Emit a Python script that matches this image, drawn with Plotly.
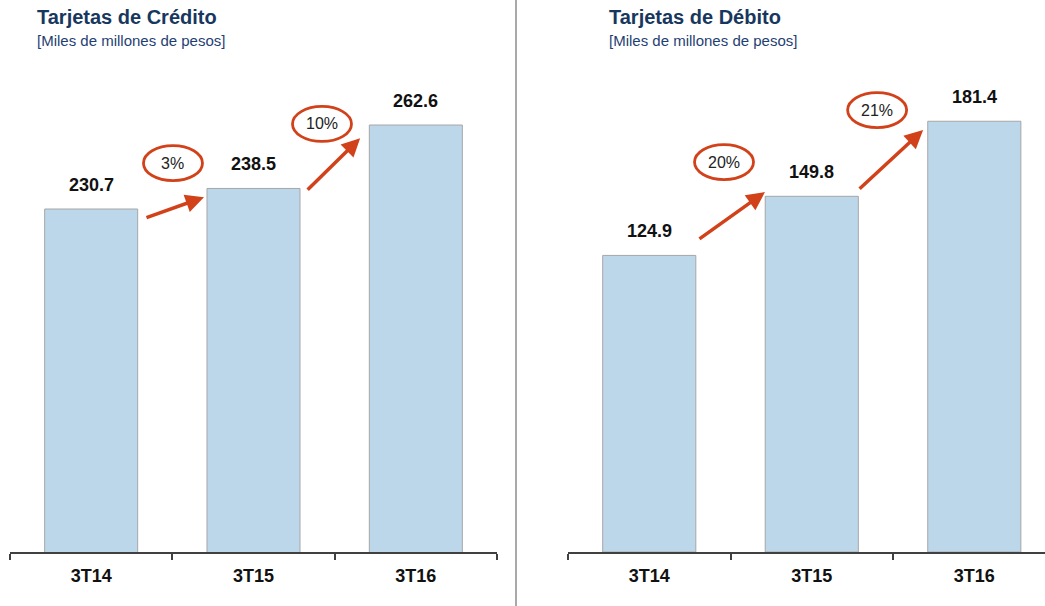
import plotly.graph_objects as go

W, H = 1045, 606

# datos
periodos = ["3T14", "3T15", "3T16"]
credito = [230.7, 238.5, 262.6]
debito = [124.9, 149.8, 181.4]
crec_credito = ["3%", "10%"]
crec_debito = ["20%", "21%"]

titulos = ["Tarjetas de Crédito", "Tarjetas de Débito"]
subtitulo = "[Miles de millones de pesos]"

AZUL_BARRA = "#BDD7EA"
ROJO = "#D2421A"
NAVY = "#17375E"
FONT = "Liberation Sans, Arial, sans-serif"


def px_x(p):
    return p / W


def px_y(p):
    return (H - p) / H


fig = go.Figure()

for vals, xa, ya in [(credito, "x", "y"), (debito, "x2", "y2")]:
    fig.add_trace(
        go.Bar(
            x=periodos,
            y=vals,
            xaxis=xa,
            yaxis=ya,
            marker=dict(color=AZUL_BARRA, line=dict(color="#A6A6A6", width=1)),
            showlegend=False,
            hoverinfo="skip",
        )
    )

annotations = []
shapes = []

# etiquetas de valor sobre las barras
for vals, xa, ya in [(credito, "x", "y"), (debito, "x2", "y2")]:
    for p, v in zip(periodos, vals):
        annotations.append(
            dict(
                x=p, y=v, xref=xa, yref=ya, yshift=24,
                text="<b>%.1f</b>" % v, showarrow=False,
                font=dict(family=FONT, size=18, color="#111111"),
            )
        )

# flechas: punta (x, y) en datos, cola en pixeles relativos
flechas = [
    ("x", "y", 0.695, 235.2, -59, 21),
    ("x", "y", 1.657, 257.6, -54, 53),
    ("x2", "y2", 0.712, 151.6, -67, 48),
    ("x2", "y2", 1.685, 177.7, -65, 60),
]
for xa, ya, x, y, ax, ay in flechas:
    annotations.append(
        dict(
            x=x, y=y, xref=xa, yref=ya, ax=ax, ay=ay, text="",
            showarrow=True, arrowhead=2, arrowsize=1.05, arrowwidth=3.5,
            arrowcolor=ROJO, standoff=0,
        )
    )

# elipses con el crecimiento
elipses = [
    ("x", "y", 0.504, 248.1, crec_credito[0]),
    ("x", "y", 1.422, 263.0, crec_credito[1]),
    ("x2", "y2", 0.46, 164.2, crec_debito[0]),
    ("x2", "y2", 1.402, 186.1, crec_debito[1]),
]
for xa, ya, x, y, txt in elipses:
    shapes.append(
        dict(
            type="circle", xref=xa, yref=ya, xsizemode="pixel", ysizemode="pixel",
            xanchor=x, yanchor=y, x0=-29.5, x1=29.5, y0=-17.5, y1=17.5,
            line=dict(color=ROJO, width=2.8),
        )
    )
    annotations.append(
        dict(
            x=x, y=y, xref=xa, yref=ya, text=txt, showarrow=False,
            font=dict(family=FONT, size=16, color="#222222"),
        )
    )

# titulos
for x0, t in [(36, titulos[0]), (608, titulos[1])]:
    annotations.append(
        dict(
            x=px_x(x0 - 1), y=px_y(17), xref="paper", yref="paper", text="<b>%s</b>" % t,
            xanchor="left", yanchor="middle", showarrow=False,
            font=dict(family=FONT, size=20, color=NAVY),
        )
    )
    annotations.append(
        dict(
            x=px_x(x0 - 1), y=px_y(40), xref="paper", yref="paper", text=subtitulo,
            xanchor="left", yanchor="middle", showarrow=False,
            font=dict(family=FONT, size=15, color="#1F3F73"),
        )
    )

# separador vertical
shapes.append(
    dict(type="line", xref="paper", yref="paper", x0=px_x(516), x1=px_x(516),
         y0=0, y1=1, line=dict(color="#8C8C8C", width=1.5))
)

eje_x = dict(
    type="category", showline=True, linecolor="#404040", linewidth=1.5,
    ticks="outside", ticklen=6, tickcolor="#404040", tickwidth=1.5,
    tickson="boundaries", showgrid=False, zeroline=False,
    tickfont=dict(family=FONT, size=18, color="#111111"),
    tickprefix="<b>", ticksuffix="</b>", ticklabelstandoff=7, fixedrange=True,
)
eje_y = dict(visible=False, fixedrange=True, domain=[px_y(552), px_y(60)])

fig.update_layout(
    width=W, height=H,
    margin=dict(l=0, r=0, t=0, b=0),
    paper_bgcolor="white", plot_bgcolor="white",
    bargap=0.427,
    xaxis=dict(eje_x, domain=[px_x(10), px_x(497)], range=[-0.5, 2.5], anchor="y"),
    xaxis2=dict(eje_x, domain=[px_x(568), 1.0], range=[-0.5, 2.435], anchor="y2"),
    yaxis=dict(eje_y, range=[100.4, 287.3], anchor="x"),
    yaxis2=dict(eje_y, range=[0, 207.2], anchor="x2"),
    annotations=annotations,
    shapes=shapes,
)

fig.write_html(
    "out.html",
    config={"displayModeBar": False},
    post_script="document.body.style.margin='0';document.body.style.overflow='hidden';",
)
